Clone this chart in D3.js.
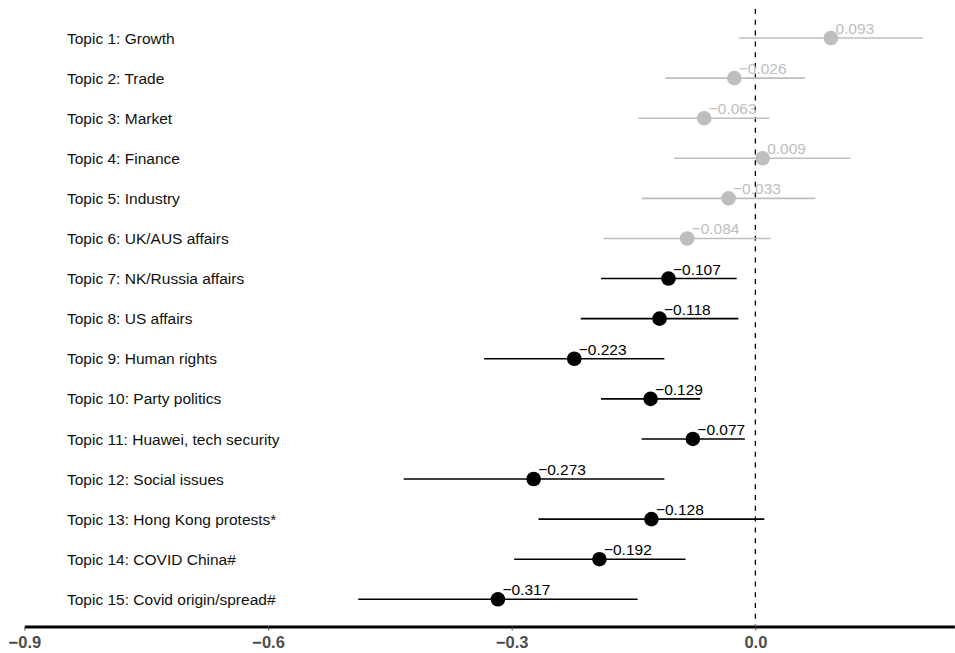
<!DOCTYPE html>
<html>
<head>
<meta charset="utf-8">
<script src="https://cdn.jsdelivr.net/npm/d3@7"></script>
<style>
  body { margin: 0; background: #fff; }
  svg { display: block; font-family: "Liberation Sans", Arial, Helvetica, sans-serif; }
</style>
</head>
<body>
<script>
// Topic labels, point estimates and confidence bounds
var topics = [
  "Topic 1: Growth", "Topic 2: Trade", "Topic 3: Market", "Topic 4: Finance",
  "Topic 5: Industry", "Topic 6: UK/AUS affairs", "Topic 7: NK/Russia affairs",
  "Topic 8: US affairs", "Topic 9: Human rights", "Topic 10: Party politics",
  "Topic 11: Huawei, tech security", "Topic 12: Social issues",
  "Topic 13: Hong Kong protests*", "Topic 14: COVID China#", "Topic 15: Covid origin/spread#"
];
var estimates = [0.093, -0.026, -0.063, 0.009, -0.033, -0.084, -0.107, -0.118, -0.223, -0.129, -0.077, -0.273, -0.128, -0.192, -0.317];
var lower = [-0.020, -0.111, -0.144, -0.100, -0.140, -0.187, -0.190, -0.215, -0.334, -0.190, -0.140, -0.433, -0.267, -0.297, -0.489];
var upper = [0.206, 0.061, 0.017, 0.117, 0.074, 0.019, -0.023, -0.021, -0.112, -0.068, -0.013, -0.112, 0.011, -0.086, -0.145];
var highlighted = [false, false, false, false, false, false, true, true, true, true, true, true, true, true, true];
var xTicks = [-0.9, -0.6, -0.3, 0.0];

var data = topics.map(function(t, i) {
  return { topic: t, est: estimates[i], lo: lower[i], hi: upper[i], hl: highlighted[i] };
});

var svgWidth = 955, svgHeight = 653;

var svg = d3.select("body").append("svg")
  .attr("width", svgWidth)
  .attr("height", svgHeight);

var x = d3.scaleLinear()
  .domain([-0.9, 0.245])
  .range([24.4, 24.4 + 1.145 * 812.2]);

var y = d3.scalePoint()
  .domain(topics)
  .range([38, 599.3]);

var colorFor = function(d) { return d.hl ? "#000000" : "#bebebe"; };

// zero reference line
svg.append("line")
  .attr("x1", x(0)).attr("x2", x(0))
  .attr("y1", 9).attr("y2", 625)
  .attr("stroke", "#000")
  .attr("stroke-width", 1.3)
  .attr("stroke-dasharray", "5,5.8");

// topic labels
svg.selectAll("text.topic")
  .data(data)
  .enter()
  .append("text")
  .attr("class", "topic")
  .attr("x", 67)
  .attr("y", d => y(d.topic))
  .attr("dy", "0.36em")
  .attr("font-size", "15.5px")
  .attr("fill", "#111")
  .text(d => d.topic);

// confidence intervals
svg.selectAll("line.ci")
  .data(data)
  .enter()
  .append("line")
  .attr("class", "ci")
  .attr("x1", d => x(d.lo))
  .attr("x2", d => x(d.hi))
  .attr("y1", d => y(d.topic))
  .attr("y2", d => y(d.topic))
  .attr("stroke", colorFor)
  .attr("stroke-width", 1.6);

// point estimates
svg.selectAll("circle")
  .data(data)
  .enter()
  .append("circle")
  .attr("cx", d => x(d.est))
  .attr("cy", d => y(d.topic))
  .attr("r", 7.3)
  .attr("fill", colorFor);

// value labels
var fmt = d3.format(".3f");
svg.selectAll("text.value")
  .data(data)
  .enter()
  .append("text")
  .attr("class", "value")
  .attr("x", d => x(d.est) + 4.5)
  .attr("y", d => y(d.topic) - 4)
  .attr("font-size", "15.5px")
  .attr("fill", colorFor)
  .text(d => fmt(d.est));

// x axis
var xAxis = d3.axisBottom(x)
  .tickValues(xTicks)
  .tickFormat(d3.format(".1f"))
  .tickSize(4)
  .tickSizeOuter(0)
  .tickPadding(6);

var axisG = svg.append("g")
  .attr("transform", "translate(0, 626.5)")
  .call(xAxis);

axisG.select(".domain")
  .attr("stroke", "#000")
  .attr("stroke-width", 3);
axisG.selectAll(".tick line")
  .attr("stroke", "#4d4d4d")
  .attr("stroke-width", 1);
axisG.selectAll(".tick text")
  .attr("font-family", "'Liberation Sans', Arial, sans-serif")
  .attr("font-size", "16.5px")
  .attr("font-weight", "bold")
  .attr("fill", "#4d4d4d");
</script>
</body>
</html>
